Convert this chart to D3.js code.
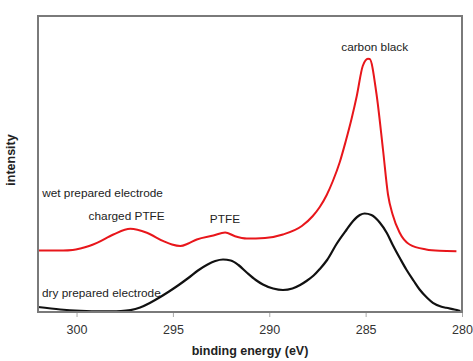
<!DOCTYPE html>
<html>
<head>
<meta charset="utf-8">
<script src="https://cdn.jsdelivr.net/npm/d3@7"></script>
<style>
  body { margin: 0; background: #fff; }
  text { font-family: "Liberation Sans", Arial, sans-serif; }
</style>
</head>
<body>
<div id="graph"></div>
<script>
// binding energy (eV) and intensity (a.u.)
const wetEnergy = [302.0, 300.7, 300.2, 299.8, 299.35, 298.94, 298.09, 297.21, 296.35, 295.49, 295.05, 294.62, 294.2, 293.76, 292.9, 292.29, 291.78, 291.17, 290.22, 289.29, 288.31, 287.74, 287.38, 287.02, 286.7, 286.34, 286.03, 285.72, 285.46, 285.15, 284.88, 284.79, 284.44, 284.1, 283.84, 283.6, 283.24, 282.72, 281.86, 281.17, 280.29];
const wetIntensity = [61.5, 61.5, 62, 63.5, 66, 69.2, 77.5, 83.2, 79.2, 70.8, 67.5, 66, 68.5, 72.5, 76.5, 79.5, 75.8, 73.5, 74, 77.5, 86, 96, 105, 117, 131, 150, 171, 194, 216, 246, 253.2, 253, 218.5, 162.5, 117.5, 97.5, 79.5, 67.5, 62.5, 61.2, 60.8];

const dryEnergy = [302.0, 300.84, 299.8, 298.77, 298.2, 297.7, 297.2, 296.7, 296.2, 295.7, 295.2, 294.7, 294.2, 293.7, 293.2, 292.8, 292.4, 292.0, 291.6, 291.17, 290.7, 290.33, 289.8, 289.29, 288.8, 288.4, 288.07, 287.7, 287.38, 287.0, 286.51, 286.0, 285.65, 285.3, 285.05, 284.7, 284.27, 283.9, 283.58, 283.2, 282.89, 282.5, 282.2, 281.8, 281.51, 281.1, 280.82, 280.4, 280.08];
const dryIntensity = [5, 2.5, 1.2, 0.6, 0.6, 0.8, 1.8, 4.5, 9, 14.5, 20.5, 27, 34, 41.5, 47.5, 51, 52.5, 51.5, 47, 39.5, 32, 27.5, 23.5, 22, 23.5, 27, 31, 36.5, 43, 52, 68, 82, 91, 97, 98.5, 97, 89.5, 79, 66.5, 53, 42.5, 31, 22.5, 14, 9.2, 5.5, 4.2, 2.5, 1];

const xTicks = [300, 295, 290, 285, 280];

const svgWidth = 473;
const svgHeight = 361;
const margin = {top: 16, right: 11, bottom: 49, left: 38};
const width = svgWidth - margin.left - margin.right;
const height = svgHeight - margin.top - margin.bottom;

const svg = d3.select('#graph')
  .append('svg')
  .attr('width', svgWidth)
  .attr('height', svgHeight)
  .append('g')
  .attr('transform', `translate(${margin.left}, ${margin.top})`);

// x runs backwards, as usual for XPS
const x = d3.scaleLinear()
  .domain([302, 280])
  .range([0, width]);

const y = d3.scaleLinear()
  .domain([0, height])
  .range([height, 0]);

const line = d3.line()
  .x(d => x(d[0]))
  .y(d => y(d[1]))
  .curve(d3.curveMonotoneX);

const wet = wetEnergy.map((e, i) => [e, wetIntensity[i]]);
const dry = dryEnergy.map((e, i) => [e, dryIntensity[i]]);

svg.append('path')
  .datum(dry)
  .attr('d', line)
  .attr('fill', 'none')
  .attr('stroke', '#111')
  .attr('stroke-width', 2.2);

svg.append('path')
  .datum(wet)
  .attr('d', line)
  .attr('fill', 'none')
  .attr('stroke', '#e8161b')
  .attr('stroke-width', 2);

// frame
svg.append('rect')
  .attr('x', 0)
  .attr('y', 0)
  .attr('width', width)
  .attr('height', height)
  .attr('fill', 'none')
  .attr('stroke', '#7a7a7a')
  .attr('stroke-width', 2);

// x axis
const xAxis = svg.append('g')
  .attr('transform', `translate(0,${height + 1})`)
  .call(d3.axisBottom(x).tickValues(xTicks).tickSize(4).tickPadding(8).tickFormat(d3.format('d')));
xAxis.select('.domain').remove();
xAxis.selectAll('line').attr('stroke', '#aaa');
xAxis.selectAll('text')
  .attr('fill', '#333')
  .style('font-size', '12.5px')
  .style('font-family', '"Liberation Sans", Arial, sans-serif');

svg.append('text')
  .attr('x', width / 2)
  .attr('y', height + 43)
  .attr('text-anchor', 'middle')
  .attr('font-weight', 'bold')
  .attr('font-size', '12.5px')
  .attr('fill', '#222')
  .text('binding energy (eV)');

svg.append('text')
  .attr('transform', `translate(${-23}, ${144}) rotate(-90)`)
  .attr('text-anchor', 'middle')
  .attr('font-weight', 'bold')
  .attr('font-size', '12.5px')
  .attr('fill', '#222')
  .text('intensity');

// annotations
const labels = [
  {text: 'carbon black', e: 284.53, v: 264},
  {text: 'wet prepared electrode', e: 298.65, v: 118},
  {text: 'charged PTFE', e: 297.4, v: 95},
  {text: 'PTFE', e: 292.3, v: 92},
  {text: 'dry prepared electrode', e: 298.71, v: 18}
];

svg.selectAll('.note')
  .data(labels)
  .enter()
  .append('text')
  .attr('class', 'note')
  .attr('x', d => x(d.e))
  .attr('y', d => y(d.v))
  .attr('text-anchor', 'middle')
  .attr('dominant-baseline', 'middle')
  .attr('font-size', '11.8px')
  .attr('fill', '#222')
  .text(d => d.text);
</script>
</body>
</html>
